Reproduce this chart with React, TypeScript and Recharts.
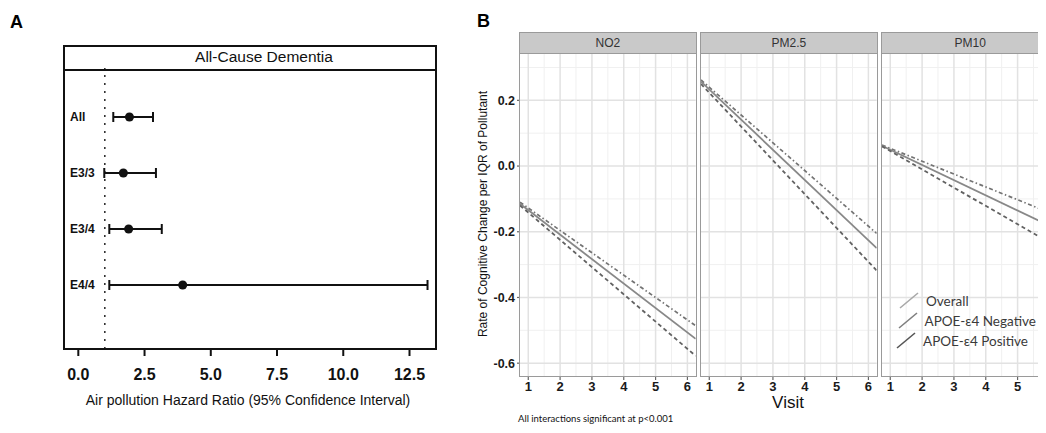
import React from 'react'
import { ScatterChart, Scatter, XAxis, YAxis, ErrorBar, ReferenceLine, LineChart, Line } from 'recharts'

// Panel A: hazard ratios with 95% CI
const groups = ['All', 'E3/3', 'E3/4', 'E4/4']
const hazardRatio = [1.93, 1.7, 1.9, 3.94]
const ciLow = [1.32, 0.98, 1.17, 1.17]
const ciHigh = [2.82, 2.93, 3.15, 13.18]
const hrTicks = [0, 2.5, 5, 7.5, 10, 12.5]

// Panel B: rate of cognitive change, line ends at the panel edges
const visitEnds = [0.74, 6.26]
const visitTicks = [1, 2, 3, 4, 5, 6]
const visitMinor = [1.5, 2.5, 3.5, 4.5, 5.5]
const rateTicks = [-0.6, -0.4, -0.2, 0, 0.2]
const rateMinor = [-0.5, -0.3, -0.1, 0.1, 0.3]
const seriesNames = ['Overall', 'APOE-ε4 Negative', 'APOE-ε4 Positive']

const no2Overall = [-0.115, -0.526]
const no2Negative = [-0.11, -0.486]
const no2Positive = [-0.12, -0.578]
const pm25Overall = [0.257, -0.25]
const pm25Negative = [0.262, -0.205]
const pm25Positive = [0.25, -0.318]
const pm10Overall = [0.062, -0.194]
const pm10Negative = [0.064, -0.152]
const pm10Positive = [0.06, -0.247]

const arial = '"Liberation Sans", Arial, sans-serif'
const calibri = 'Lato, "Open Sans", sans-serif'

const PANEL_W = 175.7
const PLOT_TOP = 52.7
const PLOT_BOTTOM = 376

const hrRows = groups.map((g, i) => ({
  group: g,
  row: groups.length - i,
  hr: hazardRatio[i],
  err: [hazardRatio[i] - ciLow[i], ciHigh[i] - hazardRatio[i]],
}))

const makeRows = (o: number[], n: number[], p: number[]) =>
  visitEnds.map((v, i) => ({ visit: v, overall: o[i], negative: n[i], positive: p[i] }))

const facets = [
  { name: 'NO2', left: 520, rows: makeRows(no2Overall, no2Negative, no2Positive) },
  { name: 'PM2.5', left: 701, rows: makeRows(pm25Overall, pm25Negative, pm25Positive) },
  { name: 'PM10', left: 882.3, rows: makeRows(pm10Overall, pm10Negative, pm10Positive) },
]

function Facet({ name, left, rows, showY }: { name: string; left: number; rows: any[]; showY: boolean }) {
  const yw = showY ? 40 : 0
  return (
    <>
      <div style={{ position: 'absolute', left: left - yw, top: 0 }}>
        <LineChart
          data={rows}
          width={yw + PANEL_W + 2}
          height={433}
          margin={{ top: PLOT_TOP, right: 2, bottom: 433 - PLOT_BOTTOM - 20, left: 0 }}
        >
          <XAxis
            type="number"
            dataKey="visit"
            domain={[0.74, 6.26]}
            ticks={visitTicks}
            allowDataOverflow
            axisLine={false}
            height={20}
            tickSize={4}
            tickMargin={2}
            tickLine={{ stroke: '#666', strokeWidth: 1.2 }}
            tick={{ fill: '#1a1a1a', fontSize: 13, fontWeight: 700, fontFamily: arial }}
          />
          <YAxis
            type="number"
            domain={[-0.639, 0.345]}
            ticks={rateTicks}
            allowDataOverflow
            hide={!showY}
            width={40}
            axisLine={false}
            tickSize={3}
            tickMargin={2}
            tickFormatter={(v: number) => v.toFixed(1)}
            tickLine={{ stroke: '#666', strokeWidth: 1.2 }}
            tick={{ fill: '#1a1a1a', fontSize: 12.5, fontWeight: 700, fontFamily: arial }}
          />
          {visitMinor.map(v => <ReferenceLine key={'xm' + v} x={v} stroke="#f0f0f0" strokeWidth={1} />)}
          {rateMinor.map(v => <ReferenceLine key={'ym' + v} y={v} stroke="#f0f0f0" strokeWidth={1} />)}
          {visitTicks.map(v => <ReferenceLine key={'x' + v} x={v} stroke="#e2e2e2" strokeWidth={1.5} />)}
          {rateTicks.map(v => <ReferenceLine key={'y' + v} y={v} stroke="#e2e2e2" strokeWidth={1.5} />)}
          <Line type="linear" dataKey="negative" name={seriesNames[1]} stroke="#737373" strokeWidth={1.7} strokeDasharray="4 2.5 1.5 2.5" dot={false} isAnimationActive={false} />
          <Line type="linear" dataKey="overall" name={seriesNames[0]} stroke="#888" strokeWidth={1.8} dot={false} isAnimationActive={false} />
          <Line type="linear" dataKey="positive" name={seriesNames[2]} stroke="#626262" strokeWidth={1.8} strokeDasharray="4 3" dot={false} isAnimationActive={false} />
        </LineChart>
      </div>
      <div
        style={{
          position: 'absolute',
          left: left - 1,
          top: 32,
          width: PANEL_W + 2,
          height: PLOT_BOTTOM - 32 + 1,
          border: '1.5px solid #9a9a9a',
          boxSizing: 'border-box',
          pointerEvents: 'none',
        }}
      >
        <div
          style={{
            height: 20,
            background: '#c9c9c9',
            borderBottom: '1.5px solid #9a9a9a',
            textAlign: 'center',
            lineHeight: '20px',
            fontFamily: arial,
            fontSize: 12,
            color: '#333',
          }}
        >
          {name}
        </div>
      </div>
    </>
  )
}

const legendStroke = ['#a8a8a8', '#7e7e7e', '#555']

export default function App() {
  return (
    <div style={{ position: 'relative', width: 1046, height: 433, margin: -8, overflow: 'hidden', background: '#fff' }}>
      {/* Panel A */}
      <div style={{ position: 'absolute', left: 10, top: 12, fontFamily: arial, fontWeight: 700, fontSize: 18 }}>A</div>
      <div style={{ position: 'absolute', left: 0, top: 0 }}>
        <ScatterChart width={450} height={433} margin={{ top: 68, right: 14, bottom: 54, left: 64 }}>
          <XAxis
            type="number"
            dataKey="hr"
            domain={[-0.54, 13.5]}
            ticks={hrTicks}
            allowDataOverflow
            tickFormatter={(v: number) => v.toFixed(1)}
            height={30}
            tickSize={7}
            tickMargin={13}
            axisLine={false}
            tickLine={{ stroke: '#111', strokeWidth: 2 }}
            tick={{ fill: '#111', fontSize: 16, fontWeight: 700, fontFamily: arial }}
          />
          <YAxis
            type="number"
            dataKey="row"
            domain={[-0.143, 4.875]}
            ticks={[1, 2, 3, 4]}
            allowDataOverflow
            tickFormatter={(v: number) => groups[groups.length - v]}
            mirror
            axisLine={false}
            tickLine={false}
            tickSize={0}
            tickMargin={6}
            tick={{ fill: '#111', fontSize: 12, fontWeight: 700, fontFamily: arial, textAnchor: 'start' }}
          />
          <ReferenceLine x={1} stroke="#333" strokeWidth={1.6} strokeDasharray="2 6" />
          <Scatter data={hrRows} fill="#111" shape="circle" isAnimationActive={false}>
            <ErrorBar dataKey="err" direction="x" width={5} stroke="#111" strokeWidth={2} />
          </Scatter>
        </ScatterChart>
      </div>
      <div
        style={{
          position: 'absolute',
          left: 63,
          top: 45,
          width: 374,
          height: 305,
          border: '2px solid #111',
          boxSizing: 'border-box',
          pointerEvents: 'none',
        }}
      >
        <div style={{ height: 22, borderBottom: '2px solid #111' }} />
      </div>
      <div
        style={{
          position: 'absolute',
          left: 264,
          top: 57,
          transform: 'translate(-50%, -50%)',
          fontFamily: arial,
          fontSize: 15.5,
          color: '#111',
          whiteSpace: 'nowrap',
        }}
      >
        All-Cause Dementia
      </div>
      <div
        style={{
          position: 'absolute',
          left: 248,
          top: 400,
          transform: 'translate(-50%, -50%)',
          fontFamily: arial,
          fontSize: 14,
          color: '#111',
          whiteSpace: 'nowrap',
        }}
      >
        Air pollution Hazard Ratio (95% Confidence Interval)
      </div>

      {/* Panel B */}
      <div style={{ position: 'absolute', left: 477, top: 11, fontFamily: arial, fontWeight: 700, fontSize: 18 }}>B</div>
      {facets.map((f, i) => (
        <Facet key={f.name} name={f.name} left={f.left} rows={f.rows} showY={i === 0} />
      ))}
      <div
        style={{
          position: 'absolute',
          left: 483,
          top: 214,
          transform: 'translate(-50%, -50%) rotate(-90deg)',
          fontFamily: arial,
          fontSize: 12,
          color: '#111',
          whiteSpace: 'nowrap',
        }}
      >
        Rate of Cognitive Change per IQR of Pollutant
      </div>
      <div
        style={{
          position: 'absolute',
          left: 788,
          top: 403,
          transform: 'translate(-50%, -50%)',
          fontFamily: arial,
          fontSize: 17,
          color: '#111',
        }}
      >
        Visit
      </div>
      <div
        style={{
          position: 'absolute',
          left: 518,
          top: 413,
          lineHeight: '12px',
          fontFamily: calibri,
          fontSize: 9.5,
          color: '#111',
          whiteSpace: 'nowrap',
        }}
      >
        All interactions significant at p&lt;0.001
      </div>
      <div style={{ position: 'absolute', left: 898, top: 291 }}>
        {seriesNames.map((s, i) => (
          <div key={s} style={{ display: 'flex', alignItems: 'center', height: 20, marginLeft: -i * 1.5 }}>
            <svg width={22} height={18} style={{ flex: 'none' }}>
              <line x1={2} y1={16} x2={20} y2={1} stroke={legendStroke[i]} strokeWidth={1.6} />
            </svg>
            <span style={{ fontFamily: calibri, fontSize: 13.5, color: '#3a3a3a', marginLeft: 6, whiteSpace: 'nowrap' }}>{s}</span>
          </div>
        ))}
      </div>
    </div>
  )
}
